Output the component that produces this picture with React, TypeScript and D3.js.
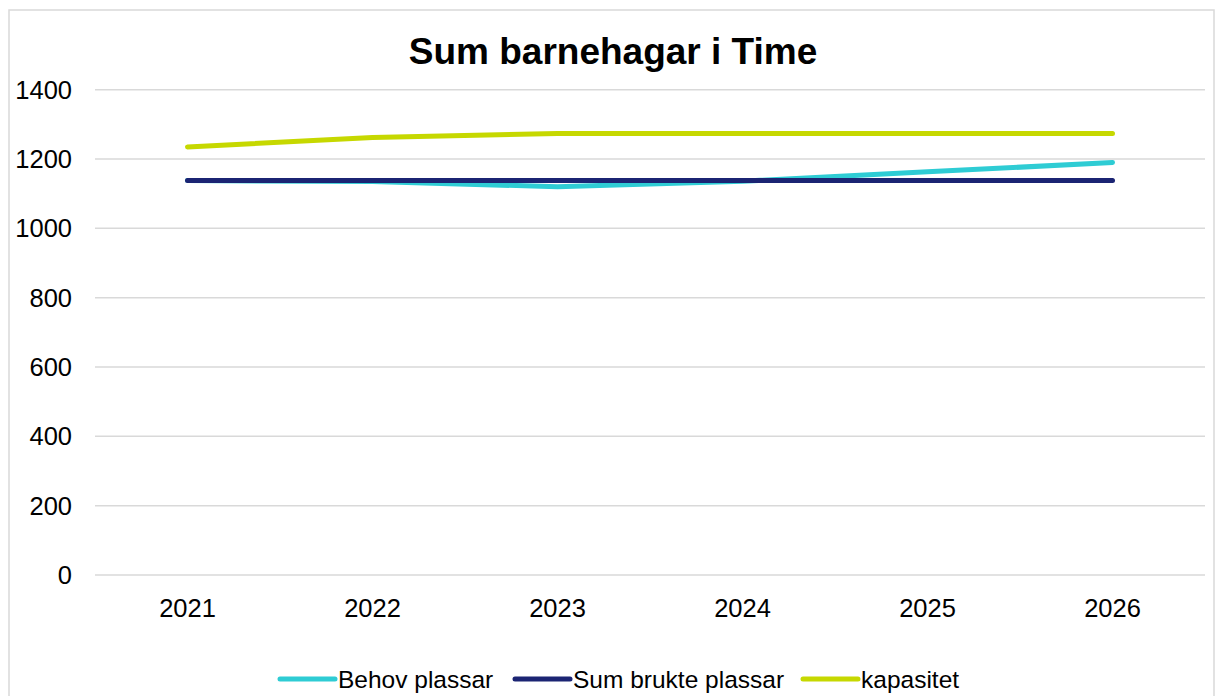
import React from 'react';
import { scaleBand, scaleLinear, line } from 'd3';

const years = ['2021', '2022', '2023', '2024', '2025', '2026'];
const behovPlassar = [1138, 1135, 1120, 1136, 1163, 1190];
const sumBruktePlassar = [1138, 1138, 1138, 1138, 1138, 1138];
const kapasitet = [1235, 1262, 1274, 1274, 1274, 1274];
const yTicks = [0, 200, 400, 600, 800, 1000, 1200, 1400];

const seriesNames = ['Behov plassar', 'Sum brukte plassar', 'kapasitet'];
const seriesColors = ['#2ECCD4', '#1B2473', '#C6D800'];

const width = 1215;
const height = 696;
const plot = { left: 95, right: 1205, top: 89.7, bottom: 575 };
const font = '"Liberation Sans", Arial, sans-serif';

export default function App() {
  const x = scaleBand().domain(years).range([plot.left, plot.right]);
  const y = scaleLinear().domain([0, 1400]).range([plot.bottom, plot.top]);
  const cx = (yr: string) => (x(yr) || 0) + x.bandwidth() / 2;

  const all = [behovPlassar, sumBruktePlassar, kapasitet];
  const path = line<number>()
    .x((_, i) => cx(years[i]))
    .y((d) => y(d));

  // legend: where each sample line starts
  const legendX = [280, 515, 803];

  return (
    <svg
      width={width}
      height={height}
      style={{ position: 'absolute', left: 0, top: 0, fontFamily: font }}
    >
      <rect x={0} y={0} width={width} height={height} fill="#fff" />
      <rect x={9} y={10} width={1205} height={720} fill="none" stroke="#d9d9d9" strokeWidth={1.5} />
      <text x={613} y={64} textAnchor="middle" fontSize={37} fontWeight="bold" fill="#000">
        Sum barnehagar i Time
      </text>

      {yTicks.map((t) => (
        <g key={t}>
          <line x1={plot.left} x2={plot.right} y1={y(t)} y2={y(t)} stroke="#d9d9d9" strokeWidth={1.5} />
          <text x={72} y={y(t)} dy="0.35em" textAnchor="end" fontSize={25.5} fill="#000">
            {t}
          </text>
        </g>
      ))}

      {years.map((yr) => (
        <text key={yr} x={cx(yr)} y={617} textAnchor="middle" fontSize={25.5} fill="#000">
          {yr}
        </text>
      ))}

      {all.map((s, i) => (
        <path
          key={seriesNames[i]}
          d={path(s) || ''}
          fill="none"
          stroke={seriesColors[i]}
          strokeWidth={5}
          strokeLinecap="round"
          strokeLinejoin="round"
        />
      ))}

      {seriesNames.map((n, i) => (
        <g key={n}>
          <line
            x1={legendX[i]}
            x2={legendX[i] + 55}
            y1={679}
            y2={679}
            stroke={seriesColors[i]}
            strokeWidth={5}
            strokeLinecap="round"
          />
          <text x={legendX[i] + 58} y={679} dy="0.35em" fontSize={24.5} fill="#000">
            {n}
          </text>
        </g>
      ))}
    </svg>
  );
}
